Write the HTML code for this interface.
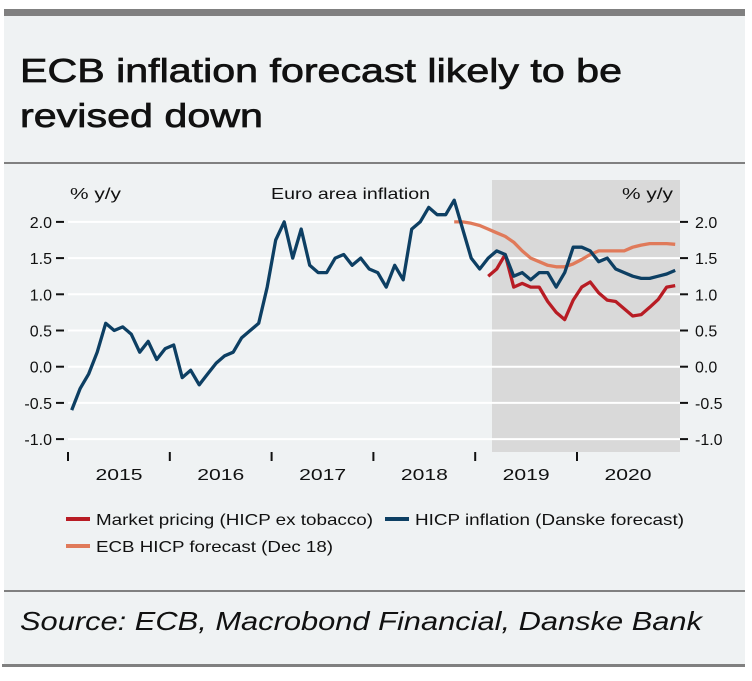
<!DOCTYPE html>
<html><head><meta charset="utf-8"><style>
body{margin:0;background:#fff;width:752px;height:676px;overflow:hidden;font-family:"Liberation Sans",sans-serif}
</style></head><body>
<svg width="752" height="676" xmlns="http://www.w3.org/2000/svg" font-family="Liberation Sans, sans-serif">
<rect x="4" y="9" width="741" height="657" fill="#eff2f3"/>
<rect x="4" y="9" width="741" height="7" fill="#808080"/>
<text x="20" y="82" font-size="33" fill="#111" stroke="#111" stroke-width="0.7" textLength="602" lengthAdjust="spacingAndGlyphs">ECB inflation forecast likely to be</text>
<text x="20" y="127" font-size="33" fill="#111" stroke="#111" stroke-width="0.7" textLength="243" lengthAdjust="spacingAndGlyphs">revised down</text>
<rect x="4" y="162" width="741" height="2" fill="#808080"/>
<rect x="4" y="590" width="741" height="2" fill="#808080"/>
<rect x="2" y="664" width="743" height="3" fill="#808080"/>
<text x="20" y="630" font-size="26" font-style="italic" fill="#111" textLength="682" lengthAdjust="spacingAndGlyphs">Source: ECB, Macrobond Financial, Danske Bank</text>
<g id="plot"></g>
</svg>
<script>
const yTicks=[2.0,1.5,1.0,0.5,0.0,-0.5,-1.0];
const yTickLabels=["2.0","1.5","1.0","0.5","0.0","-0.5","-1.0"];
const years=["2015","2016","2017","2018","2019","2020"];
const hicp=[-0.6,-0.3,-0.1,0.2,0.6,0.5,0.55,0.45,0.2,0.35,0.1,0.25,
0.3,-0.15,-0.05,-0.25,-0.1,0.05,0.15,0.2,0.4,0.5,0.6,1.1,
1.75,2.0,1.5,1.9,1.4,1.3,1.3,1.5,1.55,1.4,1.5,1.35,
1.3,1.1,1.4,1.2,1.9,2.0,2.2,2.1,2.1,2.3,1.9,1.5,
1.35,1.5,1.6,1.55,1.25,1.3,1.2,1.3,1.3,1.1,1.3,1.65,
1.65,1.6,1.45,1.5,1.35,1.3,1.25,1.22,1.22,1.25,1.28,1.33];
const marketStart=49;
const market=[1.25,1.35,1.55,1.1,1.15,1.1,1.1,0.9,0.75,0.65,0.92,1.1,1.17,1.02,0.92,0.9,0.8,0.7,0.72,0.82,0.93,1.1,1.12];
const ecbStart=45;
const ecb=[2.0,2.0,1.98,1.95,1.9,1.85,1.8,1.72,1.6,1.5,1.45,1.4,1.38,1.38,1.42,1.48,1.55,1.6,1.6,1.6,1.6,1.65,1.68,1.7,1.7,1.7,1.69];
const NS="http://www.w3.org/2000/svg";
const g=document.getElementById('plot');
const x0=68,x1=680,yTop=180,yBot=452;
function xm(i){return 71.7+i*8.5;}
function yv(v){return 366.7-v*72.4;}
function yearX(k){return 68+k*101.8;}
function el(t,a,p){const e=document.createElementNS(NS,t);for(const k in a)e.setAttribute(k,a[k]);(p||g).appendChild(e);return e;}
const sh=el('rect',{x:492,y:yTop,width:x1-492,height:yBot-yTop,fill:'#d9d9d9'});


yTicks.forEach((v,i)=>{
 const y=yv(v);
 const gl=el('line',{x1:x0,x2:x1,y1:y,y2:y,stroke:'#fff','stroke-width':2});
 
 
 el('line',{x1:56,x2:64,y1:y,y2:y,stroke:'#111','stroke-width':2});
 el('line',{x1:680,x2:688,y1:y,y2:y,stroke:'#111','stroke-width':2});
 const l=el('text',{x:52,y:y+6,'text-anchor':'end','font-size':16,fill:'#111'});l.textContent=yTickLabels[i];
 
 
 const r=el('text',{x:695,y:y+6,'font-size':16,fill:'#111'});r.textContent=yTickLabels[i];
 
 
});
for(let k=0;k<=years.length;k++){
 const x=yearX(k);
 if(x<=x1-5) el('line',{x1:x,x2:x,y1:452,y2:461,stroke:'#111','stroke-width':2});
 if(k<years.length){const t=el('text',{x:x+51,y:480,'text-anchor':'middle','font-size':16,fill:'#111',textLength:47,lengthAdjust:'spacingAndGlyphs'});t.textContent=years[k];
 
 }
}
const lab=[[70,199,'% y/y','y-axis-unit-left',51],[271,199,'Euro area inflation','chart-subtitle',159],[622,199,'% y/y','y-axis-unit-right',51]];
lab.forEach(a=>{const t=el('text',{x:a[0],y:a[1],'font-size':16,fill:'#111',textLength:a[4],lengthAdjust:'spacingAndGlyphs'});t.textContent=a[2];
 
 });
function line(arr,start,color,name){
 const d=arr.map((v,i)=>(i?'L':'M')+xm(start+i).toFixed(1)+' '+yv(v).toFixed(1)).join(' ');
 const p=el('path',{d:d,fill:'none',stroke:color,'stroke-width':3.3,'stroke-linejoin':'round'});
 
 
}
line(ecb,ecbStart,'#e07a5a','ecb-forecast-line');
line(market,marketStart,'#b81c24','market-pricing-line');
line(hicp,0,'#0d3f63','hicp-line');
const leg=[[66,519,'#b81c24','Market pricing (HICP ex tobacco)',277],[385,519,'#0d3f63','HICP inflation (Danske forecast)',269],[66,546,'#e07a5a','ECB HICP forecast (Dec 18)',237]];
leg.forEach(a=>{
 const lg=el('g',{});
 
 
 el('rect',{x:a[0],y:a[1]-2,width:24,height:4,fill:a[2]},lg);
 const t=el('text',{x:a[0]+30,y:a[1]+6,'font-size':16,fill:'#111',textLength:a[4],lengthAdjust:'spacingAndGlyphs'},lg);t.textContent=a[3];
});
</script>
</body></html>
